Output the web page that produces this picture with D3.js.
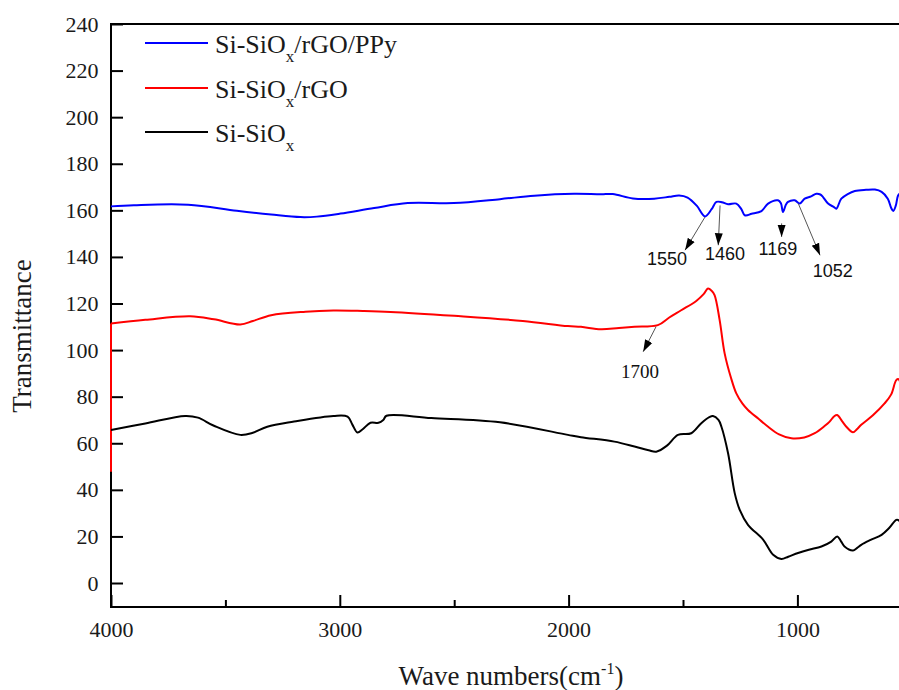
<!DOCTYPE html>
<html>
<head>
<meta charset="utf-8">
<script src="https://cdn.jsdelivr.net/npm/d3@7"></script>
<style>
  html, body { margin: 0; padding: 0; background: #fff; }
  svg { display: block; }
</style>
</head>
<body>
<svg id="chart" width="899" height="690"></svg>
<script>
// FTIR spectra: [wavenumber (cm-1), transmittance]
const pPySeries = [
  [4000,161.7],[3900,162.2],[3663,162.4],[3450,159.8],[3300,158.2],[3172,157.1],[3100,157.3],
  [2997,158.6],[2850,161.0],[2703,163.1],[2502,163.1],[2300,164.8],[2150,166.3],[1976,167.1],
  [1858,166.9],[1807,167.0],[1719,165.1],[1626,165.0],[1560,165.8],[1517,166.4],[1480,165.5],
  [1440,162.0],[1404,157.4],[1375,160.5],[1354,163.6],[1330,163.5],[1303,162.6],[1267,162.9],
  [1245,160.5],[1230,157.9],[1200,158.5],[1157,159.7],[1128,162.9],[1085,164.3],[1072,163.0],
  [1063,159.3],[1050,162.5],[1041,163.6],[1012,164.3],[990,162.9],[968,165.0],[940,166.0],
  [917,167.1],[900,166.8],[888,165.7],[866,162.9],[840,161.4],[830,160.7],[808,165.0],
  [780,167.0],[749,168.3],[700,168.8],[661,168.9],[632,167.9],[605,165.0],[590,161.0],
  [581,159.7],[570,162.0],[560,166.4],[550,167.5]
];
const rGoSeries = [
  [4000,47.8],[4000,111.4],[3850,113.0],[3654,114.5],[3550,113.2],[3435,111.0],[3380,112.5],
  [3300,115.0],[3150,116.5],[3028,117.0],[2900,116.8],[2778,116.4],[2500,114.7],[2200,112.5],
  [2003,110.3],[1946,110.0],[1858,108.9],[1780,109.5],[1712,110.0],[1610,110.7],[1560,114.0],
  [1508,117.1],[1442,121.1],[1410,124.0],[1391,126.4],[1375,125.5],[1362,123.6],[1340,113.0],
  [1318,98.6],[1290,88.0],[1267,81.4],[1240,77.0],[1216,74.3],[1170,70.5],[1128,67.1],
  [1080,63.8],[1026,62.1],[970,62.5],[924,64.3],[880,67.5],[859,69.3],[840,71.5],[826,72.1],
  [805,69.5],[786,67.1],[757,64.7],[740,66.0],[721,67.9],[670,72.0],[619,77.1],[590,81.0],
  [568,87.1],[558,87.5],[550,86.0]
];
const siSeries = [
  [4000,65.7],[3850,68.5],[3676,71.7],[3620,71.0],[3550,67.5],[3435,63.6],[3380,64.5],
  [3317,67.1],[3200,69.3],[3028,71.7],[2966,71.4],[2945,68.0],[2923,64.6],[2900,66.0],
  [2866,68.8],[2831,68.8],[2810,70.0],[2796,71.8],[2600,70.8],[2300,69.0],[2003,63.6],
  [1946,62.6],[1800,60.7],[1712,58.6],[1650,57.0],[1617,56.4],[1570,59.0],[1522,63.6],
  [1464,64.3],[1420,68.6],[1385,71.2],[1369,71.7],[1345,70.0],[1332,67.1],[1303,55.7],
  [1274,38.6],[1252,31.4],[1216,25.0],[1150,18.6],[1106,12.1],[1070,10.3],[1040,11.3],
  [997,12.9],[950,14.3],[895,15.7],[852,17.8],[826,20.0],[810,18.0],[794,15.7],[757,14.0],
  [740,15.0],[721,16.4],[680,18.5],[632,20.7],[600,23.5],[568,27.1],[558,27.0],[550,26.0]
];

const seriesNames = ["Si-SiOx/rGO/PPy", "Si-SiOx/rGO", "Si-SiOx"];
const seriesColors = ["#0000ff", "#ff0000", "#000000"];
const seriesData = [pPySeries, rGoSeries, siSeries];

const xMajorTicks = [4000, 3000, 2000, 1000];
const xMinorTicks = [3500, 2500, 1500, 500];
const yTicks = [0, 20, 40, 60, 80, 100, 120, 140, 160, 180, 200, 220, 240];

// Peak annotations: curve point, arrow tip, label anchor (data units)
const peakLabels = ["1550", "1460", "1169", "1052", "1700"];
const peakFrom = [[1404,157.1],[1338,162.1],[1069,154.4],[996,162.9],[1618,110.0]];
const peakTip  = [[1491,142.9],[1346,145.0],[1069,148.6],[901,140.7],[1674,99.3]];
const peakText = [[1570,136.4],[1316,138.6],[1085,140.7],[845,131.4],[1688,87.9]];
const peakSerif = [false, false, false, false, true];

const svg = d3.select("#chart");
const plotLeft = 111, plotTop = 24, plotBottom = 607, plotRight = 899;

const x = d3.scaleLinear().domain([4000, 500]).range([plotLeft, plotLeft + 3500 * 0.2288]);
const y = d3.scaleLinear().domain([-10.3, 240]).range([plotBottom, plotTop]);

const serif = "'Liberation Serif', 'Times New Roman', serif";
const sans = "'Liberation Sans', Arial, sans-serif";

const defs = svg.append("defs");
defs.append("clipPath").attr("id", "plot-clip")
  .append("rect").attr("x", plotLeft - 2).attr("y", plotTop)
  .attr("width", plotRight - plotLeft + 2).attr("height", plotBottom - plotTop);

// axes
const xAxis = svg.append("g").attr("transform", `translate(0,${plotBottom})`)
  .call(d3.axisBottom(x).tickValues(xMajorTicks).tickSize(-12).tickSizeOuter(0).tickPadding(14.5)
    .tickFormat(d3.format("d")));
const xMinor = svg.append("g").attr("transform", `translate(0,${plotBottom})`)
  .call(d3.axisBottom(x).tickValues(xMinorTicks).tickSize(-7).tickSizeOuter(0).tickFormat(""));
const yAxis = svg.append("g").attr("transform", `translate(${plotLeft},0)`)
  .call(d3.axisLeft(y).tickValues(yTicks).tickSize(-12).tickSizeOuter(0).tickPadding(12.5));

[xAxis, xMinor, yAxis].forEach(g => {
  g.attr("font-family", serif);
  g.selectAll(".domain").remove();
  g.selectAll(".tick line").attr("stroke", "#000").attr("stroke-width", 2);
  g.selectAll(".tick text").attr("fill", "#1a1a1a").style("font-family", serif).style("font-size", "22px");
});

// frame
svg.append("line").attr("x1", plotLeft).attr("x2", plotLeft).attr("y1", plotTop - 1).attr("y2", plotBottom + 1)
  .attr("stroke", "#000").attr("stroke-width", 2);
svg.append("line").attr("x1", plotLeft - 1).attr("x2", plotRight).attr("y1", plotBottom).attr("y2", plotBottom)
  .attr("stroke", "#000").attr("stroke-width", 2);
svg.append("line").attr("x1", plotLeft - 1).attr("x2", plotRight).attr("y1", plotTop).attr("y2", plotTop)
  .attr("stroke", "#000").attr("stroke-width", 2);

// spectra, drawn over the frame
const smooth = d3.line()
  .x(d => x(d[0])).y(d => y(d[1]))
  .curve(d3.curveCatmullRom.alpha(0.5));
const straight = d3.line()
  .x(d => x(d[0])).y(d => y(d[1]));

const plot = svg.append("g").attr("clip-path", "url(#plot-clip)");
seriesData.forEach((s, i) => {
  // a leading point sharing the first wavenumber is a vertical jump: draw it straight
  const lead = s.length > 1 && s[1][0] === s[0][0] ? 1 : 0;
  if (lead) {
    plot.append("path")
      .attr("d", straight(s.slice(0, 2)))
      .attr("fill", "none")
      .attr("stroke", seriesColors[i])
      .attr("stroke-width", 2);
  }
  plot.append("path")
    .datum(s.slice(lead))
    .attr("d", smooth)
    .attr("fill", "none")
    .attr("stroke", seriesColors[i])
    .attr("stroke-width", 2)
    .attr("stroke-linejoin", "round");
});

// axis titles
const xt = svg.append("text")
  .attr("x", 511).attr("y", 685).attr("text-anchor", "middle")
  .style("font-family", serif).style("font-size", "27px").attr("fill", "#1a1a1a");
xt.append("tspan").text("Wave numbers(cm");
xt.append("tspan").attr("dy", -11).style("font-size", "16px").text("-1");
xt.append("tspan").attr("dy", 11).text(")");

svg.append("text")
  .attr("transform", "translate(31,336) rotate(-90)")
  .attr("text-anchor", "middle")
  .style("font-family", serif).style("font-size", "27px").attr("fill", "#1a1a1a")
  .text("Transmittance");

// legend
const legendRowY = [43, 88, 132];
seriesNames.forEach((name, i) => {
  const ly = legendRowY[i];
  svg.append("line").attr("x1", 145).attr("x2", 208).attr("y1", ly).attr("y2", ly)
    .attr("stroke", seriesColors[i]).attr("stroke-width", 2);
  const t = svg.append("text").attr("x", 215).attr("y", ly + 10)
    .style("font-family", serif).style("font-size", "26px").attr("fill", "#1a1a1a");
  const rest = name.slice("Si-SiOx".length);
  t.append("tspan").text("Si-SiO");
  t.append("tspan").attr("dy", 9).style("font-size", "17px").text("x");
  if (rest) t.append("tspan").attr("dy", -9).text(rest);
});

// peak annotations
defs.append("marker")
  .attr("id", "arrowhead").attr("markerUnits", "userSpaceOnUse")
  .attr("viewBox", "0 -5 12 10").attr("refX", 12).attr("refY", 0)
  .attr("markerWidth", 12).attr("markerHeight", 10).attr("orient", "auto")
  .append("path").attr("d", "M0,-4L12,0L0,4Z").attr("fill", "#000");

peakLabels.forEach((lab, i) => {
  svg.append("line")
    .attr("x1", x(peakFrom[i][0])).attr("y1", y(peakFrom[i][1]))
    .attr("x2", x(peakTip[i][0])).attr("y2", y(peakTip[i][1]))
    .attr("stroke", "#555").attr("stroke-width", 1)
    .attr("marker-end", "url(#arrowhead)");
  svg.append("text")
    .attr("x", x(peakText[i][0])).attr("y", y(peakText[i][1]))
    .attr("text-anchor", "middle")
    .style("font-family", peakSerif[i] ? serif : sans)
    .style("font-size", peakSerif[i] ? "19px" : "18px")
    .attr("fill", "#111")
    .text(lab);
});
</script>
</body>
</html>
